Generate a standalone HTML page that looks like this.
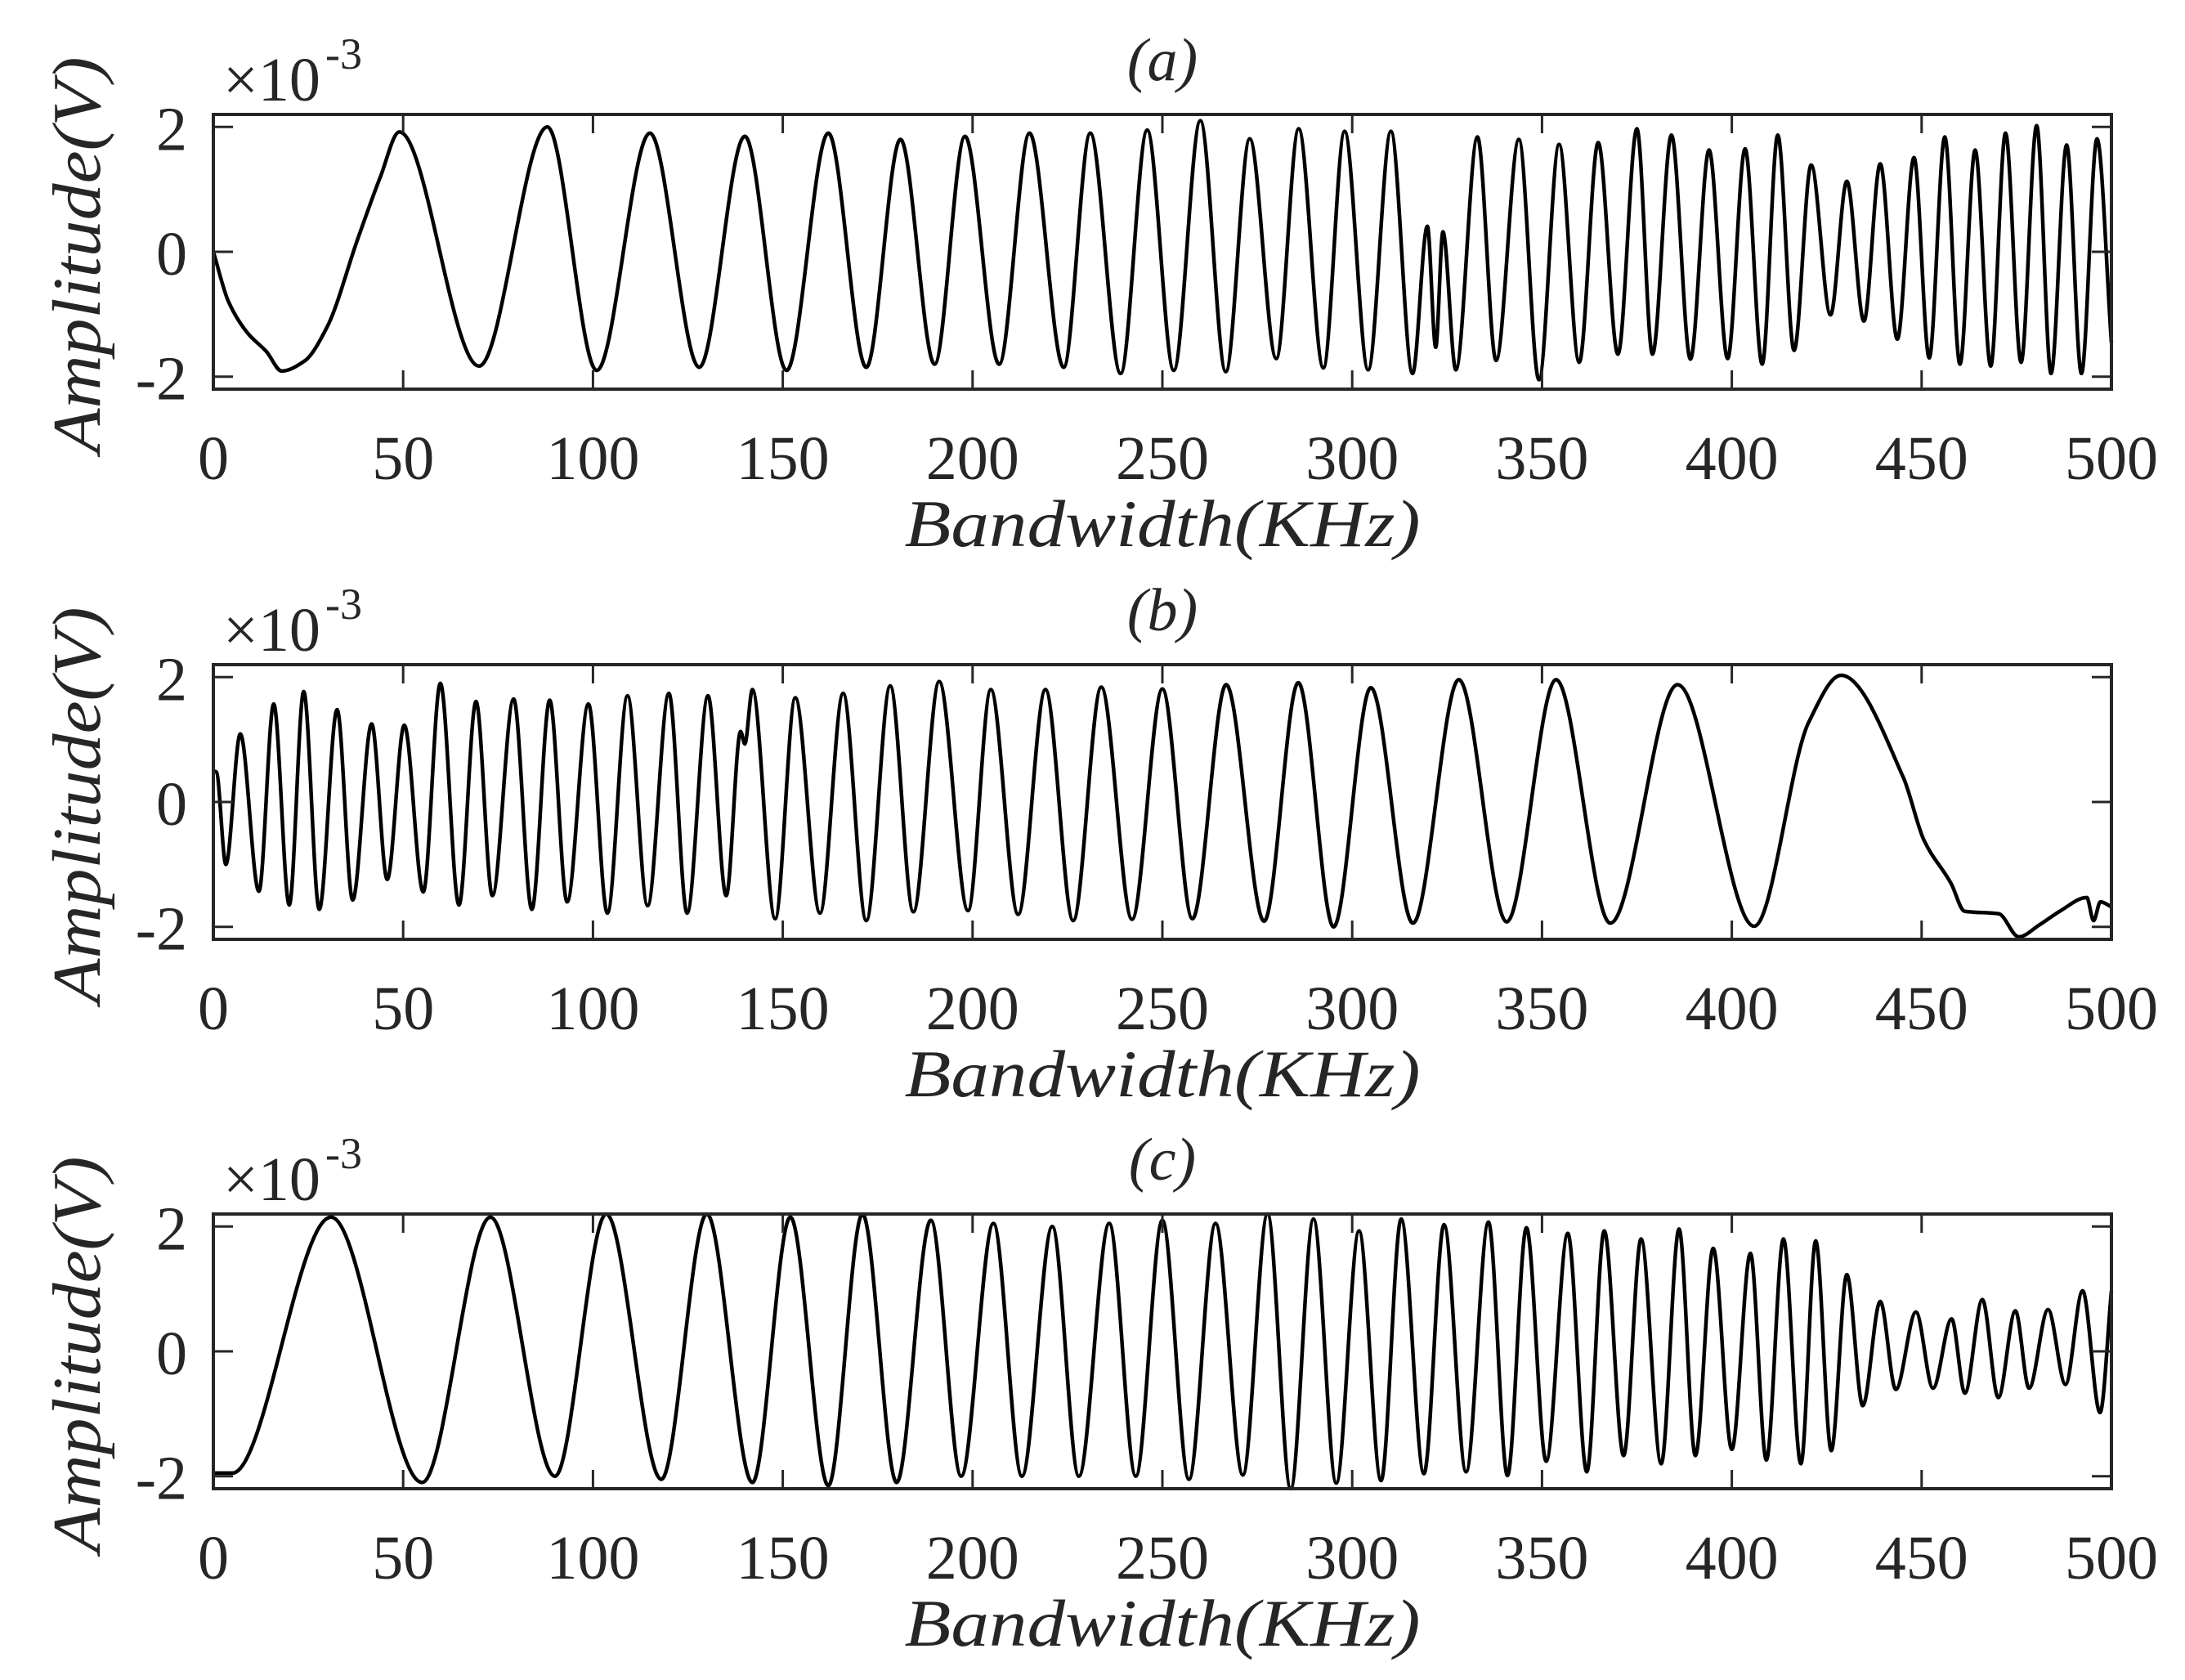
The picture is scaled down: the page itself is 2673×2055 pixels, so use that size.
<!DOCTYPE html>
<html><head><meta charset="utf-8"><style>
html,body{margin:0;padding:0;background:#fff;}
svg{display:block;}
text{font-family:"Liberation Serif",serif;fill:#262626;}
</style></head><body>
<svg id="fig" width="2673" height="2055" viewBox="0 0 2673 2055" xmlns="http://www.w3.org/2000/svg"></svg>
<script>
const xTicks=[0,50,100,150,200,250,300,350,400,450,500];
const yTicks=[-2,0,2];
const yTickLabels=["-2","0","2"];
const panelTitles=["(a)","(b)","(c)"];
// panel (a) extrema / samples (KHz, x1e-3 V)
const aX=[0,4,9,14,18,24,30,38,44,49,70,88,101,115,128,140,151,162,172,181,190,198,207,215,224,231,239,246,253,260,266.7,273.0,280.0,285.9,292.4,298.0,304.2,310.2,315.9,319.8,322.0,323.9,327.3,333.0,337.9,343.9,349.2,354.5,359.8,364.8,370.0,375.0,379.1,384.1,389.1,394.0,398.9,403.5,408.0,412.1,416.4,420.9,426.0,430.3,434.8,439.1,443.6,448.0,452.0,456.1,460.1,464.1,468.2,472.1,476.2,480.3,484.1,488.2,492.1,496.2,500];
const aY=[0,-0.8,-1.3,-1.6,-1.91,-1.75,-1.2,0.2,1.2,1.92,-1.83,2.0,-1.9,1.9,-1.85,1.85,-1.9,1.9,-1.85,1.8,-1.8,1.85,-1.8,1.9,-1.85,1.9,-1.95,1.95,-1.9,2.1,-1.92,1.81,-1.71,1.97,-1.86,1.93,-1.89,1.93,-1.95,0.41,-1.53,0.32,-1.89,1.84,-1.74,1.80,-2.05,1.72,-1.77,1.75,-1.64,1.97,-1.64,1.87,-1.72,1.63,-1.71,1.65,-1.80,1.87,-1.58,1.39,-1.01,1.13,-1.11,1.41,-1.40,1.51,-1.70,1.84,-1.80,1.63,-1.83,1.90,-1.77,2.02,-1.95,1.71,-1.95,1.81,-1.46];
// panel (b)
const bX=[0,0.8,3.3,7.1,12.0,15.9,20,23.8,27.9,32.6,36.7,41.7,45.8,50.3,55.3,59.8,64.7,69.2,73.5,79.1,83.9,88.6,93.2,98.8,103.8,109.1,114.4,120.0,124.8,130.3,135.1,138.9,140,142.0,148,153.3,159.8,165.9,172.0,178.3,184.4,191.2,198.8,204.8,212,219.2,226.5,233.9,242.0,250,257.9,266.8,276.8,285.8,295.1,304.9,316.0,328.1,340.7,353.7,368.0,385.7,405.9,420.2,428.8,445.2,450.6,457.8,461.3,470.3,475.6,481,486.4,493.5,495.3,497.1,500];
const bY=[0.5,0.48,-1.0,1.09,-1.43,1.57,-1.65,1.77,-1.72,1.48,-1.57,1.25,-1.24,1.23,-1.44,1.90,-1.65,1.61,-1.5,1.65,-1.72,1.63,-1.6,1.57,-1.78,1.70,-1.66,1.74,-1.78,1.70,-1.5,1.13,0.93,1.80,-1.87,1.67,-1.78,1.74,-1.9,1.86,-1.76,1.93,-1.74,1.80,-1.8,1.80,-1.9,1.84,-1.88,1.81,-1.87,1.88,-1.91,1.91,-2.0,1.83,-1.94,1.96,-1.92,1.96,-1.94,1.88,-1.99,1.27,2.03,0.39,-0.61,-1.31,-1.75,-1.79,-2.16,-1.97,-1.75,-1.53,-1.9,-1.6,-1.68];
// panel (c)
const cX=[0,5,31,55,73,90,103.5,118,130,142,152,162,171,180,189,197,205.5,213,221,228,236,243,250,257,264,271.2,277.7,283.8,289.8,295.8,301.8,307.6,312.9,318.9,324.2,330.0,335.9,340.9,345.9,351.1,356.8,361.8,366.4,371.5,376.1,381.4,386.1,390.4,395.1,400.0,404.9,409.1,413.6,418.2,422.1,426.2,430.3,434.5,439.1,443.2,448.5,453.0,457.9,461.4,466.0,470.2,474.7,478.3,483.3,487.9,492.4,497.0,500];
const cY=[-1.95,-1.95,2.15,-2.1,2.15,-2.0,2.2,-2.05,2.2,-2.1,2.15,-2.15,2.2,-2.1,2.1,-2.0,2.05,-2.0,2.0,-2.0,2.05,-2.0,2.1,-2.05,2.05,-1.98,2.2,-2.2,2.12,-2.11,1.93,-2.07,2.12,-1.96,2.03,-1.93,2.07,-1.99,1.98,-1.76,1.89,-1.93,1.93,-1.67,1.80,-1.80,1.96,-1.67,1.65,-1.57,1.57,-1.74,1.80,-1.80,1.77,-1.59,1.23,-0.87,0.80,-0.61,0.63,-0.59,0.52,-0.67,0.83,-0.74,0.65,-0.59,0.67,-0.53,0.97,-0.98,0.97];

const NS="http://www.w3.org/2000/svg";
const svg=document.getElementById('fig');
const X0=261,X1=2583,PH=336,YMAX=2.2;
const tops=[140,813,1485];
function sx(v){return X0+(v-0)/(500-0)*(X1-X0);}
function mk(tag,attrs,parent){const e=document.createElementNS(NS,tag);for(const k in attrs)e.setAttribute(k,attrs[k]);(parent||svg).appendChild(e);return e;}

function monotonePath(xs,ys){
  const n=xs.length,d=[],m=new Array(n);
  for(let i=0;i<n-1;i++)d.push((ys[i+1]-ys[i])/(xs[i+1]-xs[i]));
  m[0]=d[0];m[n-1]=d[n-2];
  for(let i=1;i<n-1;i++){ if(d[i-1]*d[i]<=0)m[i]=0; else {const w1=2*(xs[i+1]-xs[i])+(xs[i]-xs[i-1]),w2=(xs[i+1]-xs[i])+2*(xs[i]-xs[i-1]);m[i]=(w1+w2)/(w1/d[i-1]+w2/d[i]);}}
  let p="M"+xs[0].toFixed(2)+","+ys[0].toFixed(2);
  for(let i=0;i<n-1;i++){const h=xs[i+1]-xs[i];
    p+=" C"+(xs[i]+h/3).toFixed(2)+","+(ys[i]+m[i]*h/3).toFixed(2)+" "+(xs[i+1]-h/3).toFixed(2)+","+(ys[i+1]-m[i+1]*h/3).toFixed(2)+" "+xs[i+1].toFixed(2)+","+ys[i+1].toFixed(2);}
  return p;
}

const series=[[aX,aY],[bX,bY],[cX,cY]];
const names=["a","b","c"];
for(let k=0;k<3;k++){
  const top=tops[k],bot=top+PH;
  const sy=v=>top+PH/2-v/YMAX*(PH/2);
  const g=mk('g',{});
  
  
  const px=series[k][0].map(sx),py=series[k][1].map(sy);
  const line=mk('path',{d:monotonePath(px,py),fill:'none',stroke:'#000','stroke-width':4.5,'stroke-linejoin':'round'},g);
  
  
  const fr=mk('rect',{x:X0,y:top,width:X1-X0,height:PH,fill:'none',stroke:'#262626','stroke-width':4},g);
  
  
  xTicks.forEach((t,i)=>{
    const x=sx(t);
    mk('line',{x1:x,y1:bot,x2:x,y2:bot-23,stroke:'#262626','stroke-width':3},g);
    mk('line',{x1:x,y1:top,x2:x,y2:top+23,stroke:'#262626','stroke-width':3},g);
    const tx=mk('text',{x:x,y:bot+110,'font-size':76,'text-anchor':'middle'},g);
    tx.textContent=String(t);
    
    
  });
  yTicks.forEach((t,i)=>{
    const y=sy(t);
    mk('line',{x1:X0,y1:y,x2:X0+24,y2:y,stroke:'#262626','stroke-width':3},g);
    mk('line',{x1:X1,y1:y,x2:X1-24,y2:y,stroke:'#262626','stroke-width':3},g);
    const ty=mk('text',{x:229,y:y+28,'font-size':76,'text-anchor':'end'},g);
    ty.textContent=yTickLabels[i];
    
    
  });
  const ex=mk('text',{x:273,y:top-17,'font-size':76},g);
  ex.textContent='\u00d710';
  
  
  const ex2=mk('text',{x:398,y:top-56,'font-size':54},g);
  ex2.textContent='-3';
  
  
  const ti=mk('text',{x:(X0+X1)/2,y:top-42,'font-size':74,'font-style':'italic','text-anchor':'middle'},g);
  ti.textContent=panelTitles[k];
  
  
  const xl=mk('text',{x:(X0+X1)/2,y:bot+192,'font-size':82,'font-style':'italic','text-anchor':'middle',textLength:631,lengthAdjust:'spacingAndGlyphs'},g);
  xl.textContent='Bandwidth(KHz)';
  
  
  const yc=top+PH/2+4;
  const yl=mk('text',{x:0,y:0,'font-size':84,'font-style':'italic','text-anchor':'middle',textLength:485,lengthAdjust:'spacingAndGlyphs',transform:'translate(122,'+yc+') rotate(-90)'},g);
  yl.textContent='Amplitude(V)';
  
  
}
</script>
</body></html>
